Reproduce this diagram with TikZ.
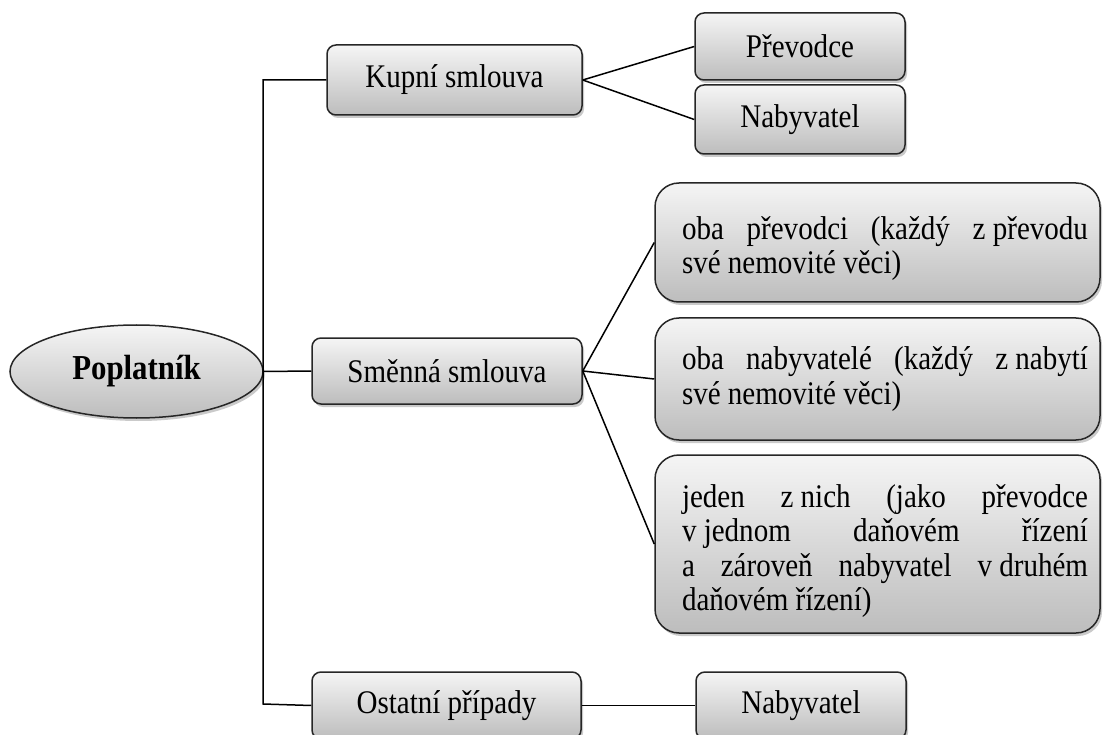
\documentclass[tikz,border=0pt]{standalone}
\usepackage{fontspec}
\setmainfont[FakeStretch=0.88]{Liberation Serif}
\usetikzlibrary{shapes.geometric,shadows}
\tikzset{
  box/.style={draw=black!85, line width=1.5pt, rounded corners=9pt,
    top color=black!4, bottom color=black!26,
    drop shadow={shadow xshift=2pt, shadow yshift=-3pt, opacity=0.35, fill=black!60},
    font=\fontsize{33}{34.5}\selectfont, inner sep=0pt, align=center},
  bigbox/.style={box, rounded corners=24pt},
  oval/.style={ellipse, draw=black!85, line width=1.5pt,
    top color=black!4, bottom color=black!26,
    drop shadow={shadow xshift=2pt, shadow yshift=-3pt, opacity=0.35, fill=black!60},
    font=\fontsize{35}{36}\selectfont\bfseries, inner sep=0pt},
  link/.style={line width=1.5pt, draw=black}
}
\newcommand{\jtext}[2]{\raisebox{-#1}[\height][\depth]{\hspace{15pt}\parbox[c]{406pt}{\fontsize{33}{34.2}\selectfont\tolerance=10000\hbadness=10000 #2}}}
\begin{document}
\begin{tikzpicture}[x=1pt, y=-1pt]
\useasboundingbox (0,0) rectangle (1103,735);
\clip (0,0) rectangle (1103,735);

\node[oval, minimum width=253pt, minimum height=93pt] (pop) at (136.5,371.5) {Poplatník};

\node[box, minimum width=255pt, minimum height=70pt] (kupni) at (454.5,80) {Kupní smlouva};
\node[box, minimum width=210pt, minimum height=67pt] (prevodce) at (800,46.5) {Převodce};
\node[box, minimum width=210pt, minimum height=69pt] (nab1) at (800,119.5) {Nabyvatel};

\node[box, minimum width=270pt, minimum height=66pt] (smenna) at (447,371) {Směnná smlouva};
\node[bigbox, minimum width=445pt, minimum height=119pt] (b1) at (877.5,242.5)
  {\jtext{6pt}{oba převodci (každý \hbox{z převodu}\linebreak své nemovité věci)}};
\node[bigbox, minimum width=445pt, minimum height=122pt] (b2) at (877.5,379)
  {\jtext{0pt}{oba nabyvatelé (každý \hbox{z nabytí}\linebreak své nemovité věci)}};
\node[bigbox, minimum width=445pt, minimum height=178pt] (b3) at (877.5,544)
  {\jtext{7pt}{jeden \hbox{z nich} (jako převodce\linebreak \hbox{v jednom} daňovém řízení\linebreak a zároveň nabyvatel \hbox{v druhém}\linebreak daňovém řízení)}};

\node[box, minimum width=269pt, minimum height=67pt] (ostatni) at (446.5,705.5) {Ostatní případy};
\node[box, minimum width=210pt, minimum height=67pt] (nab2) at (801,705.5) {Nabyvatel};

\coordinate (tt) at (263,80);
\coordinate (tb) at (263,704);

\draw[link] (kupni.west) -- (tt) -- (tb) -- (ostatni.west);
\draw[link] (pop.east) -- (smenna.west);
\draw[link] (kupni.east) -- (prevodce.west);
\draw[link] (kupni.east) -- (nab1.west);
\draw[link] (smenna.east) -- (b1.west);
\draw[link] (smenna.east) -- (b2.west);
\draw[link] (smenna.east) -- (b3.west);
\draw[link] (ostatni.east) -- (nab2.west);
\end{tikzpicture}
\end{document}
